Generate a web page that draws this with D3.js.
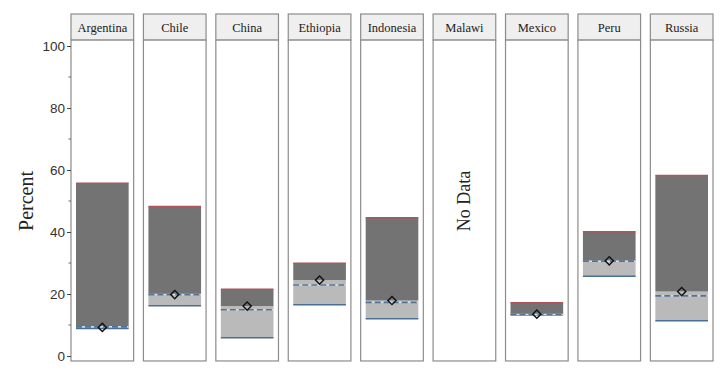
<!DOCTYPE html>
<html><head><meta charset="utf-8">
<script src="https://cdn.jsdelivr.net/npm/d3@7"></script>
<style>body{margin:0;background:#fff}svg{display:block}</style>
</head><body>
<script>
const countries = ["Argentina","Chile","China","Ethiopia","Indonesia","Malawi","Mexico","Peru","Russia"];
const maxVals   = [55.7, 48.2, 21.5, 29.9, 44.6, null, 17.2, 40.1, 58.2];
const pointVals = [9.2, 19.8, 16.1, 24.5, 17.9, null, 13.5, 30.7, 20.8];
const dashVals  = [9.4, 19.8, 14.9, 22.9, 17.3, null, 13.4, 30.6, 19.4];
const minVals   = [8.9, 16.2, 5.9, 16.5, 12.0, null, 13.2, 25.7, 11.4];
const yTicks = [0, 20, 40, 60, 80, 100];
const yMinor = [10, 30, 50, 70, 90];

const W = 720, H = 377;
const svg = d3.select("body").append("svg").attr("width", W).attr("height", H);

const x = d3.scaleBand().domain(countries).range([71, 713]).paddingInner(0.135);
const y = d3.scaleLinear().domain([0, 100]).range([356, 46]);
const panelTop = y(101.9), panelBot = y(-1.6);
const stripTop = 14;
const inset = 5;
const serif = "'Liberation Serif', 'DejaVu Serif', serif";

const data = countries.map((c, i) => ({c, max: maxVals[i], pt: pointVals[i], dash: dashVals[i], min: minVals[i]}));

const g = svg.append("g");
data.forEach(d => {
  const x0 = x(d.c), bw = x.bandwidth();
  const p = g.append("g");
  // strip
  p.append("rect").attr("x", x0).attr("y", stripTop).attr("width", bw).attr("height", panelTop - stripTop)
    .attr("fill", "#efefef").attr("stroke", "#8c8c8c").attr("stroke-width", 1.2);
  p.append("text").attr("x", x0 + bw / 2).attr("y", (stripTop + panelTop) / 2 + 4.5)
    .attr("text-anchor", "middle").attr("font-family", serif).attr("font-size", 12.5).attr("fill", "#222").text(d.c);
  // panel
  p.append("rect").attr("x", x0).attr("y", panelTop).attr("width", bw).attr("height", panelBot - panelTop)
    .attr("fill", "#fff").attr("stroke", "#8c8c8c").attr("stroke-width", 1.2);
  const bx0 = x0 + inset, bx1 = x0 + bw - inset;
  if (d.max == null) {
    const cx = x0 + bw / 2, cy = y(50);
    p.append("text").attr("transform", `translate(${cx + 6},${cy}) rotate(-90)`)
      .attr("text-anchor", "middle").attr("font-family", serif).attr("font-size", 18).attr("fill", "#222").text("No Data");
    return;
  }
  // light region min -> point
  p.append("rect").attr("x", bx0).attr("width", bx1 - bx0)
    .attr("y", y(d.pt)).attr("height", Math.max(0, y(d.min) - y(d.pt))).attr("fill", "#bababa");
  // dark region point -> max
  p.append("rect").attr("x", bx0).attr("width", bx1 - bx0)
    .attr("y", y(d.max)).attr("height", Math.max(0, y(d.pt) - y(d.max))).attr("fill", "#737373");
  // max line
  p.append("line").attr("x1", bx0).attr("x2", bx1).attr("y1", y(d.max)).attr("y2", y(d.max))
    .attr("stroke", "#b0545c").attr("stroke-width", 1.5);
  // min line
  p.append("line").attr("x1", bx0).attr("x2", bx1).attr("y1", y(d.min)).attr("y2", y(d.min))
    .attr("stroke", "#4a6e96").attr("stroke-width", 1.5);
  // dashed line
  p.append("line").attr("x1", bx0).attr("x2", bx1).attr("y1", y(d.dash)).attr("y2", y(d.dash))
    .attr("stroke", "#dcdcdc").attr("stroke-width", 1.5);
  p.append("line").attr("x1", bx0).attr("x2", bx1).attr("y1", y(d.dash)).attr("y2", y(d.dash))
    .attr("stroke", "#4f7399").attr("stroke-width", 1.6).attr("stroke-dasharray", "6,3");
  // diamond
  p.append("path").attr("d", d3.symbol(d3.symbolSquare, 34)())
    .attr("transform", `translate(${x0 + bw / 2},${y(d.pt)}) rotate(45)`)
    .attr("fill", "none").attr("stroke", "#111").attr("stroke-width", 1.4);
});

// y axis
const ax = svg.append("g").attr("transform", `translate(${x(countries[0])},0)`);
ax.call(d3.axisLeft(y).tickValues(yTicks).tickSize(4).tickPadding(2));
ax.select(".domain").remove();
ax.selectAll(".tick line").attr("stroke", "#444");
ax.selectAll(".tick text").attr("font-family", "'Liberation Sans', Arial, sans-serif").attr("font-size", 13.5).attr("fill", "#333");
ax.selectAll(".minor").data(yMinor).enter().append("line").attr("class", "minor")
  .attr("x1", -2.5).attr("x2", 0).attr("y1", d => y(d)).attr("y2", d => y(d)).attr("stroke", "#666");

svg.append("text").attr("transform", `translate(33,${y(50)}) rotate(-90)`)
  .attr("text-anchor", "middle").attr("font-family", serif).attr("font-size", 20).attr("fill", "#222").text("Percent");
</script>
</body></html>
